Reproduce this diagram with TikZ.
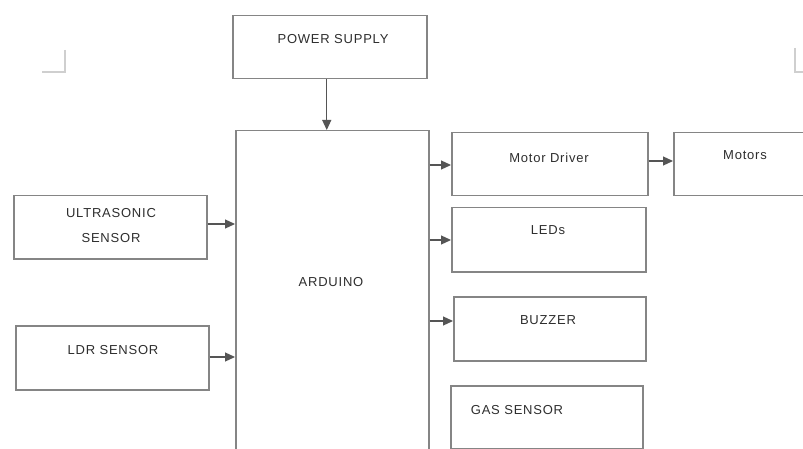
\documentclass[tikz,border=0pt]{standalone}
\usepackage{fontspec}
\setmainfont{Liberation Sans}[LetterSpace=6]
\usetikzlibrary{arrows.meta,calc}
\definecolor{boxc}{HTML}{858585}
\definecolor{arrc}{HTML}{555555}
\definecolor{txtc}{HTML}{2E2E2E}
\definecolor{markc}{HTML}{CFCFCF}
\begin{document}
\begin{tikzpicture}[x=1pt,y=-1pt,
  blk/.style={draw=boxc,line width=1.5pt,fill=none,inner sep=0pt,anchor=north west},
  lbl/.style={text=txtc,font=\fontsize{13}{16}\selectfont,inner sep=0pt,align=center},
  arr/.style={draw=arrc,line width=1.2pt,-{Triangle[length=10pt,width=9pt]}},
  cornermark/.style={draw=markc,line width=1.5pt}]
\clip (0,0) rectangle (803,449);
\fill[white] (0,0) rectangle (803,449);
% boxes
\node[blk,minimum width=194pt,minimum height=63pt] (ps) at (232,15) {};
\node[blk,minimum width=193pt,minimum height=340pt] (ard) at (235,130) {};
\node[blk,minimum width=193pt,minimum height=63pt] (us) at (13,195) {};
\node[blk,minimum width=193pt,minimum height=64pt] (ldr) at (15,325) {};
\node[blk,minimum width=196pt,minimum height=63pt] (md) at (451,132) {};
\node[blk,minimum width=160pt,minimum height=63pt] (mot) at (673,132) {};
\node[blk,minimum width=194pt,minimum height=64pt] (led) at (451,207) {};
\node[blk,minimum width=192pt,minimum height=64pt] (buz) at (453,296) {};
\node[blk,minimum width=192pt,minimum height=63pt] (gas) at (450,385) {};
% labels
\node[lbl] (tps) at (333,39) {POWER SUPPLY};
\node[lbl] (tard) at (331,282) {ARDUINO};
\node[lbl] (tus) at (111,226) {ULTRASONIC\\[9pt]SENSOR};
\node[lbl] (tldr) at (113,350) {LDR SENSOR};
\node[lbl] (tmd) at (549,158) {Motor Driver};
\node[lbl] (tmot) at (745,155) {Motors};
\node[lbl] (tled) at (548,230) {LEDs};
\node[lbl] (tbuz) at (548,320) {BUZZER};
\node[lbl] (tgas) at (517,410) {GAS SENSOR};
% connectors
\draw[arr] ([xshift=-3pt]ps.south) -- ([xshift=-3pt]ps.south |- ard.north);
\draw[arr] (us.east |- 0,224) -- (ard.west |- 0,224);
\draw[arr] (ldr.east |- 0,357) -- (ard.west |- 0,357);
\draw[arr] (ard.east |- 0,165) -- (md.west |- 0,165);
\draw[arr] (md.east |- 0,161) -- (mot.west |- 0,161);
\draw[arr] (ard.east |- 0,240) -- (led.west |- 0,240);
\draw[arr] (ard.east |- 0,321) -- (buz.west |- 0,321);
% corner marks
\draw[cornermark] (65,50) -- (65,72) -- (42,72);
\draw[cornermark] (795,48) -- (795,72) -- (805,72);
\end{tikzpicture}
\end{document}
